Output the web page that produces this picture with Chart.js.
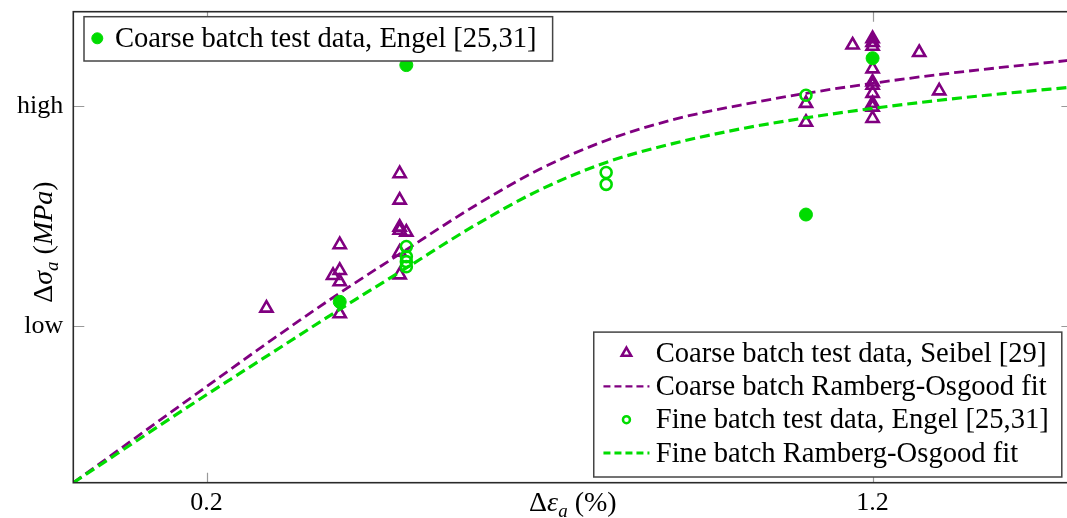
<!DOCTYPE html>
<html>
<head>
<meta charset="utf-8">
<script src="https://cdn.jsdelivr.net/npm/chart.js@4.4.0/dist/chart.umd.min.js"></script>
<style>
  html, body { margin: 0; padding: 0; background: #fff; overflow: hidden; }
  canvas { display: block; }
</style>
</head>
<body>
<canvas id="strainChart" width="1082" height="518"></canvas>
<script>
// strain amplitude in %, stress amplitude in MPa
const seibelCoarseStrain = [0.29, 0.40, 0.40, 0.39, 0.40, 0.40, 0.49, 0.49, 0.49, 0.49, 0.50, 0.49, 0.49,
  1.10, 1.10, 1.17, 1.20, 1.20, 1.20, 1.20, 1.20, 1.20, 1.20, 1.20, 1.20, 1.20, 1.27, 1.30];
const seibelCoarseStress = [278, 379, 338, 330, 320, 269, 492, 450, 407, 402, 399, 367, 331,
  604, 574, 697, 707, 701, 695, 659, 638, 633, 620, 604, 598, 580, 685, 624];

const engelCoarseStrain = [0.40, 0.50, 1.10, 1.20];
const engelCoarseStress = [288, 665, 427, 676];

const engelFineStrain = [0.50, 0.50, 0.50, 0.50, 0.80, 0.80, 1.10];
const engelFineStress = [376, 360, 352, 344, 494, 475, 617];

const fitStrain = [0, 0.2, 0.3, 0.4, 0.5, 0.6, 0.7, 0.8, 0.9, 1.0, 1.1, 1.2, 1.3, 1.4, 1.5];
const coarseFitStress = [0, 153, 229, 302, 371, 439, 499, 545, 578, 601, 620, 636, 650, 662, 673];
const fineFitStress = [0, 140, 208, 276, 342, 408, 466, 510, 540, 563, 581, 596, 609, 620, 630];

const strainTicks = [0.2, 1.2];
const stressTicks = [250, 600];
const stressTickLabels = ['low', 'high'];

const PURPLE = '#800080';
const GREEN = '#00dc00';
const SERIF = '"Liberation Serif", "DejaVu Serif", serif';

const pairs = (xs, ys) => xs.map((x, i) => ({ x: x, y: ys[i] }));

const datasets = [
  {
    label: 'Coarse batch test data, Seibel [29]',
    data: pairs(seibelCoarseStrain, seibelCoarseStress),
    pointStyle: 'triangle', pointRadius: 7, pointBorderWidth: 2.6,
    borderColor: PURPLE, backgroundColor: 'rgba(0,0,0,0)',
    order: 5, legendRadius: 5.5, legendBorder: 2.5
  },
  {
    label: 'Coarse batch Ramberg-Osgood fit',
    data: pairs(fitStrain, coarseFitStress),
    showLine: true, pointRadius: 0, borderColor: PURPLE, borderWidth: 2.8,
    borderDash: [10, 5], cubicInterpolationMode: 'monotone', order: 4
  },
  {
    label: 'Fine batch test data, Engel [25,31]',
    data: pairs(engelFineStrain, engelFineStress),
    pointStyle: 'circle', pointRadius: 5.5, pointBorderWidth: 2.6,
    borderColor: GREEN, backgroundColor: 'rgba(0,0,0,0)',
    order: 3, legendRadius: 3.5, legendBorder: 2.5
  },
  {
    label: 'Fine batch Ramberg-Osgood fit',
    data: pairs(fitStrain, fineFitStress),
    showLine: true, pointRadius: 0, borderColor: GREEN, borderWidth: 3.2,
    borderDash: [10, 5], cubicInterpolationMode: 'monotone', order: 2
  },
  {
    label: 'Coarse batch test data, Engel [25,31]',
    data: pairs(engelCoarseStrain, engelCoarseStress),
    pointStyle: 'circle', pointRadius: 6.5, pointBorderWidth: 1,
    borderColor: GREEN, backgroundColor: GREEN,
    order: 1, legendRadius: 5.5, legendBorder: 1
  }
];

// axis frame with inward ticks on all four sides
const framePlugin = {
  id: 'frame',
  afterDatasetsDraw(chart) {
    const { ctx, chartArea: a, scales } = chart;
    ctx.save();
    ctx.strokeStyle = '#999';
    ctx.lineWidth = 1.2;
    ctx.beginPath();
    strainTicks.forEach(v => {
      const px = Math.round(scales.x.getPixelForValue(v)) + 0.5;
      ctx.moveTo(px, a.bottom); ctx.lineTo(px, a.bottom - 10);
      ctx.moveTo(px, a.top); ctx.lineTo(px, a.top + 10);
    });
    stressTicks.forEach(v => {
      const py = Math.round(scales.y.getPixelForValue(v)) + 0.5;
      ctx.moveTo(a.left, py); ctx.lineTo(a.left + 11, py);
      ctx.moveTo(a.right, py); ctx.lineTo(a.right - 11, py);
    });
    ctx.stroke();
    ctx.strokeStyle = '#2a2a2a';
    ctx.lineWidth = 1.6;
    ctx.strokeRect(a.left, a.top, a.right - a.left, a.bottom - a.top);
    ctx.restore();
  }
};

function drawSymbol(ctx, ds, x, y) {
  if (ds.showLine) {
    ctx.strokeStyle = ds.borderColor;
    ctx.lineWidth = ds.borderWidth - 0.4;
    ctx.setLineDash([7, 4]);
    ctx.beginPath();
    ctx.moveTo(x - 23, y);
    ctx.lineTo(x + 23, y);
    ctx.stroke();
    ctx.setLineDash([]);
  } else {
    ctx.strokeStyle = ds.borderColor;
    ctx.fillStyle = ds.backgroundColor;
    ctx.lineWidth = ds.legendBorder;
    Chart.helpers.drawPoint(ctx, { pointStyle: ds.pointStyle, radius: ds.legendRadius, borderWidth: ds.legendBorder, rotation: 0 }, x, y);
  }
}

function drawLegendBox(ctx, entries, left, top, symbolX, textX, rowGap, padTop, padBottom, padRight) {
  const widest = Math.max(...entries.map(ds => ctx.measureText(ds.label).width));
  const width = textX + widest + padRight;
  const height = padTop + rowGap * (entries.length - 1) + padBottom;
  if (left === null) return { width, height };
  ctx.fillStyle = '#fff';
  ctx.fillRect(left, top, width, height);
  ctx.strokeStyle = '#444';
  ctx.lineWidth = 1.5;
  ctx.strokeRect(left, top, width, height);
  entries.forEach((ds, i) => {
    const y = top + padTop + i * rowGap;
    drawSymbol(ctx, ds, left + symbolX, y);
    ctx.fillStyle = '#000';
    ctx.textBaseline = 'middle';
    ctx.textAlign = 'left';
    ctx.fillText(ds.label, left + textX, y + 1);
  });
  return { width, height };
}

const legendPlugin = {
  id: 'boxLegends',
  afterDatasetsDraw(chart) {
    const { ctx, chartArea: a } = chart;
    const ds = chart.data.datasets;
    ctx.save();
    ctx.font = '28.6px ' + SERIF;
    // upper-left: coarse batch, Engel
    drawLegendBox(ctx, [ds[4]], a.left + 10.7, a.top + 5, 13.3, 31, 0, 21.6, 22.7, 16);
    // lower-right: the remaining four entries
    const lower = [ds[0], ds[1], ds[2], ds[3]];
    const size = drawLegendBox(ctx, lower, null, 0, 32.7, 62, 33.3, 21, 24, 13);
    drawLegendBox(ctx, lower, a.right - 10.6 - size.width, a.bottom - 5.7 - size.height, 32.7, 62, 33.3, 21, 24, 13);
    ctx.restore();
  }
};

// axis titles with math-style subscripts
function drawRich(ctx, parts, cx, cy) {
  const fontFor = p => (p.italic ? 'italic ' : '') + (p.sub ? 19 : 28) + 'px ' + SERIF;
  let total = 0;
  parts.forEach(p => { ctx.font = fontFor(p); p.w = ctx.measureText(p.t).width; total += p.w; });
  let x = cx - total / 2;
  ctx.textBaseline = 'alphabetic';
  ctx.textAlign = 'left';
  parts.forEach(p => {
    ctx.font = fontFor(p);
    ctx.fillText(p.t, x, cy + (p.sub ? 6 : 0));
    x += p.w;
  });
}

const titlePlugin = {
  id: 'axisTitles',
  afterDraw(chart) {
    const { ctx, chartArea: a } = chart;
    ctx.save();
    ctx.fillStyle = '#000';
    drawRich(ctx, [
      { t: 'Δ' }, { t: 'ε', italic: true }, { t: 'a', italic: true, sub: true }, { t: ' (%)' }
    ], (a.left + a.right) / 2, 511);
    ctx.translate(52, 242);
    ctx.rotate(-Math.PI / 2);
    drawRich(ctx, [
      { t: 'Δ' }, { t: 'σ', italic: true }, { t: 'a', italic: true, sub: true },
      { t: ' (' }, { t: 'MPa', italic: true }, { t: ')' }
    ], 0, 0);
    ctx.restore();
  }
};

new Chart(document.getElementById('strainChart'), {
  type: 'scatter',
  data: { datasets: datasets },
  options: {
    responsive: false,
    animation: false,
    devicePixelRatio: 1,
    layout: { padding: { left: 0, top: 11.7, right: 3.4, bottom: 0 } },
    plugins: { legend: { display: false }, tooltip: { enabled: false } },
    scales: {
      x: {
        type: 'linear', min: 0, max: 1.5,
        afterBuildTicks: s => { s.ticks = strainTicks.map(v => ({ value: v })); },
        afterFit: s => { s.height = 35.3; s.paddingLeft = 0; s.paddingRight = 0; },
        grid: { display: false, drawTicks: false },
        border: { display: false },
        ticks: { color: '#000', padding: 5, maxRotation: 0, font: { family: SERIF, size: 26 }, callback: v => v.toFixed(1) }
      },
      y: {
        type: 'linear', min: 0, max: 750,
        afterBuildTicks: s => { s.ticks = stressTicks.map(v => ({ value: v })); },
        afterFit: s => { s.width = 73.3; s.paddingTop = 0; s.paddingBottom = 0; },
        grid: { display: false, drawTicks: false },
        border: { display: false },
        ticks: { color: '#000', padding: 10, font: { family: SERIF, size: 26 }, callback: v => stressTickLabels[stressTicks.indexOf(v)] }
      }
    }
  },
  plugins: [framePlugin, legendPlugin, titlePlugin]
});
</script>
</body>
</html>
